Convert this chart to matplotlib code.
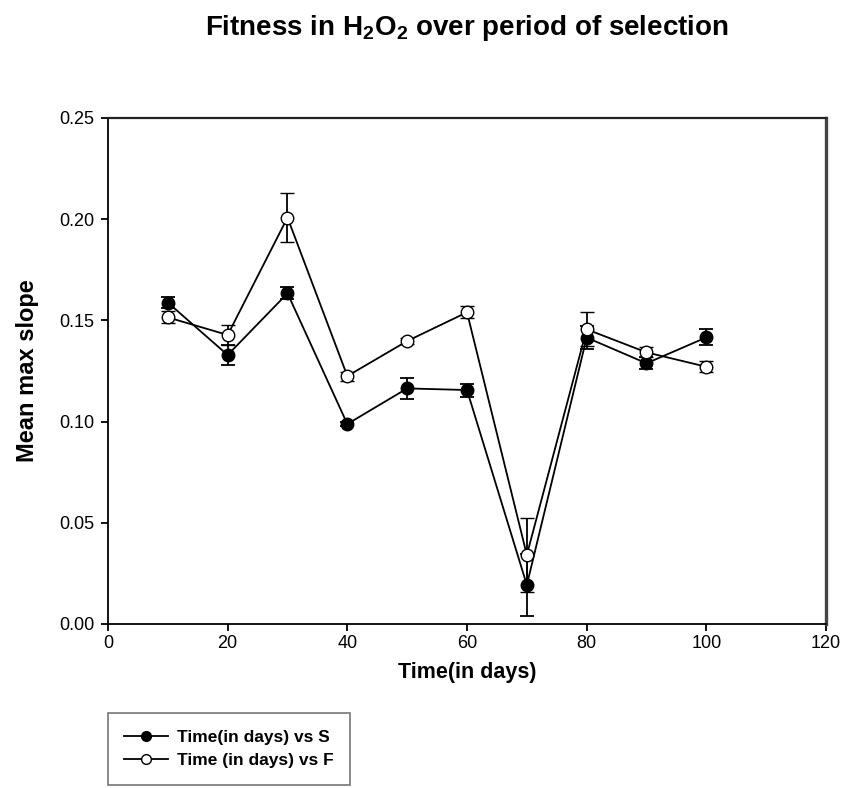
import matplotlib
matplotlib.use('Agg')
import matplotlib.pyplot as plt
from matplotlib.lines import Line2D

plt.rcParams['font.family'] = ['Liberation Sans', 'DejaVu Sans']
plt.rcParams['mathtext.fontset'] = 'custom'
plt.rcParams['mathtext.rm'] = 'Liberation Sans'
plt.rcParams['mathtext.bf'] = 'Liberation Sans:bold'

# data
days = [10, 20, 30, 40, 50, 60, 70, 80, 90, 100]
s_mean = [0.1588, 0.1329, 0.1634, 0.0988, 0.1164, 0.1156, 0.0193, 0.1415, 0.1288, 0.1416]
s_err = [0.0026, 0.0050, 0.0029, 0.0010, 0.0050, 0.0032, 0.0153, 0.0055, 0.0030, 0.0040]
f_mean = [0.1515, 0.1428, 0.2008, 0.1225, 0.1398, 0.1540, 0.0341, 0.1456, 0.1342, 0.1271]
f_err = [0.0029, 0.0050, 0.0119, 0.0022, 0.0015, 0.0029, 0.0181, 0.0084, 0.0025, 0.0028]
labels = ['Time(in days) vs S', 'Time (in days) vs F']

fig = plt.figure(figsize=(8.45, 7.88), dpi=100)
ax = fig.add_axes([108/845, 1-624/788, 718/845, 506/788])

ax.errorbar(days, s_mean, yerr=s_err, color='black', marker='o', ms=9,
            mfc='black', mec='black', lw=1.3, capsize=5, elinewidth=1.3,
            capthick=1.3)
ax.errorbar(days, f_mean, yerr=f_err, color='black', marker='o', ms=9,
            mfc='white', mec='black', mew=1.0, lw=1.3, capsize=5,
            elinewidth=1.3, capthick=1.3)

ax.set_xlim(0, 120)
ax.set_ylim(0, 0.25)
ax.set_xticks(range(0, 121, 20))
ax.set_yticks([0, 0.05, 0.10, 0.15, 0.20, 0.25])
ax.set_yticklabels(['0.00', '0.05', '0.10', '0.15', '0.20', '0.25'])
ax.tick_params(direction='out', labelsize=13, length=5, width=1.3)
ax.tick_params(axis='x', pad=3)
ax.tick_params(axis='y', pad=5)
ax.spines['left'].set_linewidth(1.3)
ax.spines['bottom'].set_linewidth(1.3)
ax.spines['top'].set_linewidth(1.6)
ax.spines['top'].set_color('#222222')
ax.spines['right'].set_linewidth(2.4)
ax.spines['right'].set_color('#444444')

ax.set_xlabel('Time(in days)', fontsize=15.5, fontweight='bold', labelpad=7)
ax.set_ylabel('Mean max slope', fontsize=17, fontweight='bold', labelpad=14)
fig.text(467/845, 1-35/788,
         r'Fitness in H$_\mathbf{2}$O$_\mathbf{2}$ over period of selection',
         ha='center', va='baseline', fontsize=20, fontweight='bold')

handles = [Line2D([], [], color='black', lw=1.3, marker='o', ms=7, mfc='black', mec='black'),
           Line2D([], [], color='black', lw=1.3, marker='o', ms=7, mfc='white', mec='black', mew=1.0)]
leg = fig.legend(handles, labels, loc='upper left',
                 bbox_to_anchor=(108/845, 1-713/788), frameon=True,
                 fancybox=False, edgecolor='#555555',
                 prop={'weight': 'bold', 'size': 12.5}, handlelength=2.5,
                 borderpad=0.95, labelspacing=0.5, handletextpad=0.5,
                 borderaxespad=0)
leg.get_frame().set_linewidth(1.2)

fig.savefig('out.png', dpi=100)
